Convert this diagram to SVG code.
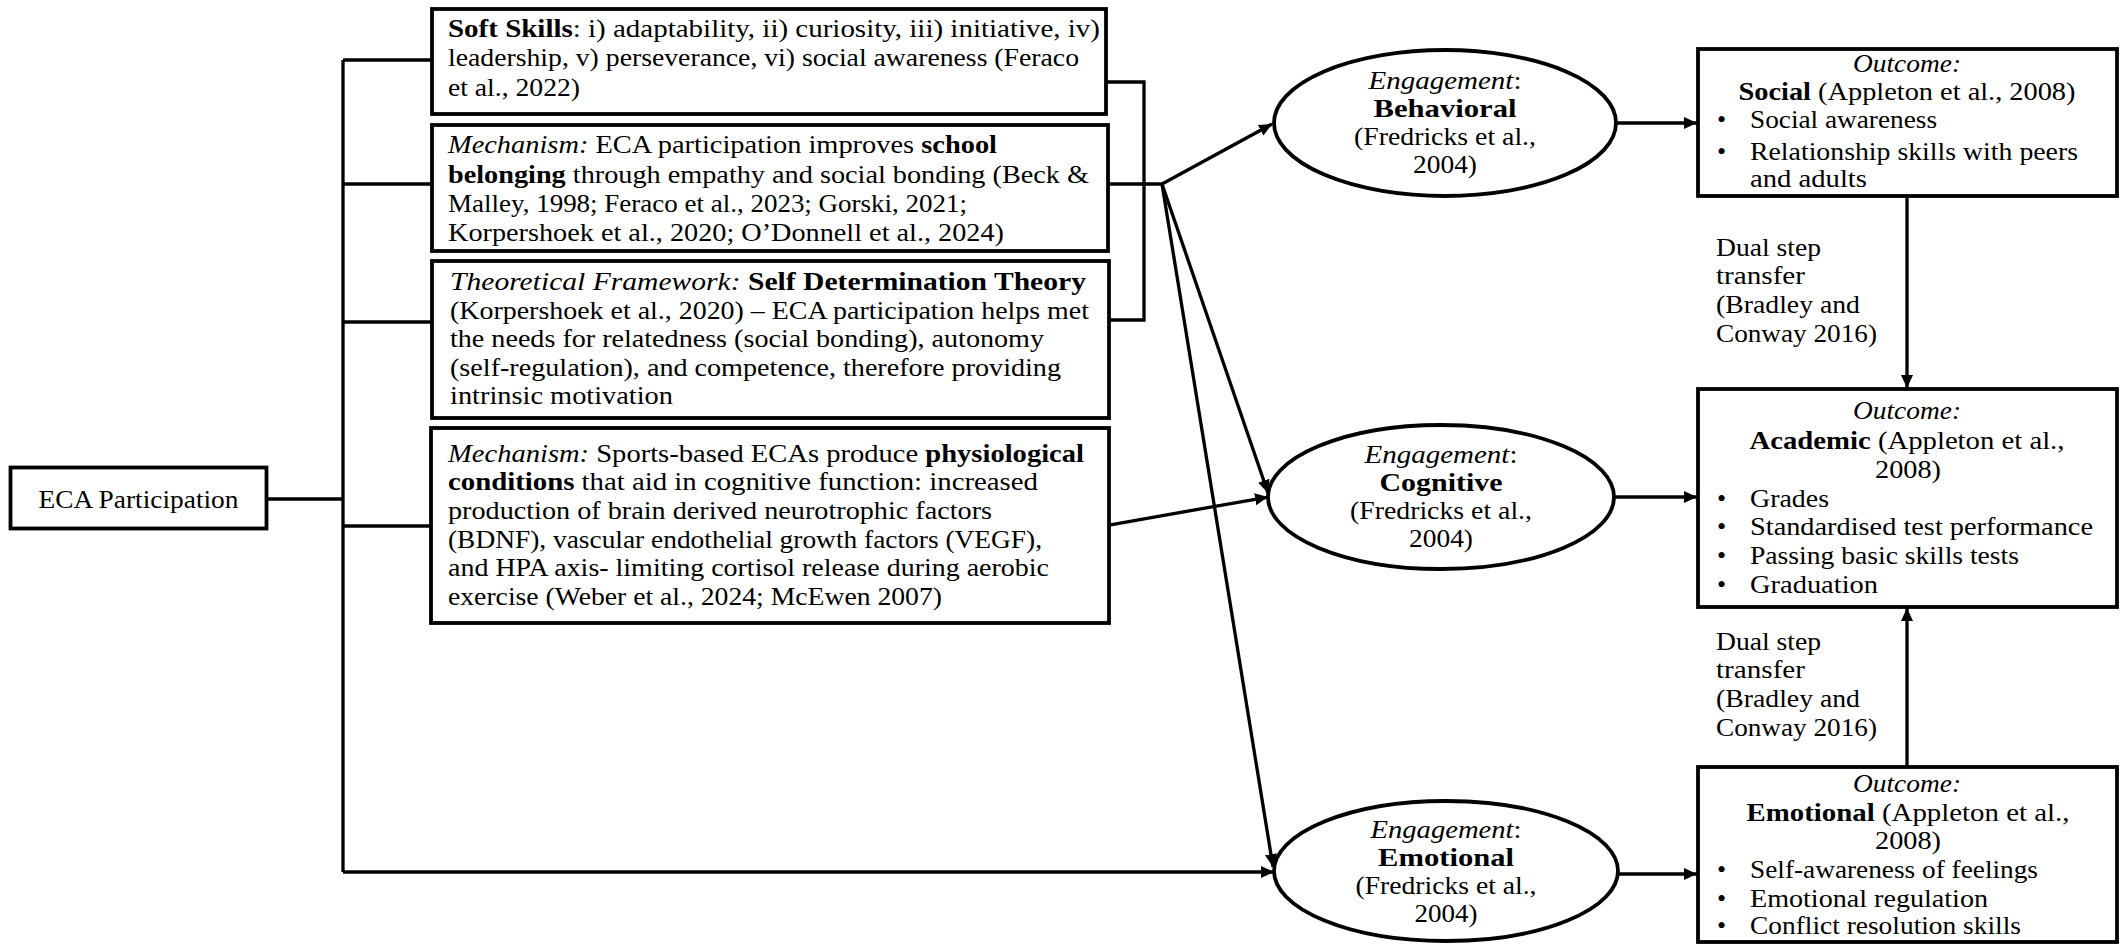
<svg xmlns="http://www.w3.org/2000/svg" width="2125" height="944" viewBox="0 0 2125 944">
<style>
.t{font-family:"Liberation Serif","Times New Roman",serif;font-size:26px;fill:#000}
.m{text-anchor:middle}
.b{font-weight:bold}
.i{font-style:italic}
.box{fill:#fff;stroke:#000;stroke-width:3.8}
.ln{fill:none;stroke:#000;stroke-width:3.3}
.arr{fill:none;stroke:#000;stroke-width:3.3;marker-end:url(#ah)}
</style>
<defs>
<marker id="ah" markerUnits="userSpaceOnUse" markerWidth="14" markerHeight="13" refX="13" refY="6" orient="auto">
<path d="M0,0 L13,6 L0,12 z" fill="#000"/>
</marker>
</defs>
<rect width="2125" height="944" fill="#fff"/>

<g id="connectors">
<line class="ln" x1="267" y1="499" x2="343" y2="499"/>
<line class="ln" x1="343" y1="60" x2="343" y2="872"/>
<line class="ln" x1="343" y1="60" x2="432" y2="60"/>
<line class="ln" x1="343" y1="184" x2="432" y2="184"/>
<line class="ln" x1="343" y1="322" x2="432" y2="322"/>
<line class="ln" x1="343" y1="526" x2="431" y2="526"/>
<line class="arr" x1="343" y1="872" x2="1274" y2="872"/>
<polyline class="ln" points="1106,82 1144,82 1144,320 1109,320"/>
<line class="ln" x1="1108" y1="184" x2="1162" y2="184"/>
<line class="arr" x1="1162" y1="184" x2="1272" y2="124"/>
<line class="arr" x1="1162" y1="184" x2="1268" y2="493"/>
<line class="arr" x1="1162" y1="184" x2="1273" y2="867"/>
<line class="arr" x1="1109" y1="525" x2="1268" y2="497"/>
<line class="arr" x1="1616" y1="123" x2="1697" y2="123"/>
<line class="arr" x1="1614" y1="497" x2="1697" y2="497"/>
<line class="arr" x1="1618" y1="874" x2="1697" y2="874"/>
<line class="arr" x1="1907" y1="196" x2="1907" y2="388"/>
<line class="arr" x1="1907" y1="767" x2="1907" y2="608"/>
</g>

<g id="eca">
<rect class="box" x="10.5" y="467.5" width="256" height="61"/>
<text class="t m" x="138.5" y="508" textLength="200" lengthAdjust="spacingAndGlyphs">ECA Participation</text>
</g>

<g id="soft-skills">
<rect class="box" x="432" y="9" width="674" height="105"/>
<text class="t" x="448" y="37" textLength="652" lengthAdjust="spacingAndGlyphs"><tspan class="b">Soft Skills</tspan>: i) adaptability, ii) curiosity, iii) initiative, iv)</text>
<text class="t" x="448" y="66" textLength="631" lengthAdjust="spacingAndGlyphs">leadership, v) perseverance, vi) social awareness (Feraco</text>
<text class="t" x="448" y="96" textLength="132" lengthAdjust="spacingAndGlyphs">et al., 2022)</text>
</g>

<g id="mechanism-belonging">
<rect class="box" x="432" y="125" width="676" height="126"/>
<text class="t" x="448" y="153" textLength="549" lengthAdjust="spacingAndGlyphs"><tspan class="i">Mechanism:</tspan> ECA participation improves <tspan class="b">school</tspan></text>
<text class="t" x="448" y="183" textLength="641" lengthAdjust="spacingAndGlyphs"><tspan class="b">belonging</tspan> through empathy and social bonding (Beck &amp;</text>
<text class="t" x="448" y="212" textLength="519" lengthAdjust="spacingAndGlyphs">Malley, 1998; Feraco et al., 2023; Gorski, 2021;</text>
<text class="t" x="448" y="241" textLength="556" lengthAdjust="spacingAndGlyphs">Korpershoek et al., 2020; O’Donnell et al., 2024)</text>
</g>

<g id="framework">
<rect class="box" x="432" y="261" width="677" height="157"/>
<text class="t" x="450" y="290" textLength="636" lengthAdjust="spacingAndGlyphs"><tspan class="i">Theoretical Framework:</tspan> <tspan class="b">Self Determination Theory</tspan></text>
<text class="t" x="450" y="319" textLength="639" lengthAdjust="spacingAndGlyphs">(Korpershoek et al., 2020) – ECA participation helps met</text>
<text class="t" x="450" y="347" textLength="594" lengthAdjust="spacingAndGlyphs">the needs for relatedness (social bonding), autonomy</text>
<text class="t" x="450" y="376" textLength="611" lengthAdjust="spacingAndGlyphs">(self-regulation), and competence, therefore providing</text>
<text class="t" x="450" y="404" textLength="223" lengthAdjust="spacingAndGlyphs">intrinsic motivation</text>
</g>

<g id="mechanism-physiological">
<rect class="box" x="431" y="428" width="678" height="195"/>
<text class="t" x="448" y="462" textLength="636" lengthAdjust="spacingAndGlyphs"><tspan class="i">Mechanism:</tspan> Sports-based ECAs produce <tspan class="b">physiological</tspan></text>
<text class="t" x="448" y="490" textLength="590" lengthAdjust="spacingAndGlyphs"><tspan class="b">conditions</tspan> that aid in cognitive function: increased</text>
<text class="t" x="448" y="519" textLength="544" lengthAdjust="spacingAndGlyphs">production of brain derived neurotrophic factors</text>
<text class="t" x="448" y="548" textLength="594" lengthAdjust="spacingAndGlyphs">(BDNF), vascular endothelial growth factors (VEGF),</text>
<text class="t" x="448" y="576" textLength="601" lengthAdjust="spacingAndGlyphs">and HPA axis- limiting cortisol release during aerobic</text>
<text class="t" x="448" y="605" textLength="494" lengthAdjust="spacingAndGlyphs">exercise (Weber et al., 2024; McEwen 2007)</text>
</g>

<g id="eng-behavioral">
<ellipse class="box" cx="1445" cy="123" rx="171" ry="73"/>
<text class="t m" x="1445" y="89" textLength="153" lengthAdjust="spacingAndGlyphs"><tspan class="i">Engagement</tspan>:</text>
<text class="t m b" x="1445" y="117" textLength="143" lengthAdjust="spacingAndGlyphs">Behavioral</text>
<text class="t m" x="1445" y="145" textLength="182" lengthAdjust="spacingAndGlyphs">(Fredricks et al.,</text>
<text class="t m" x="1445" y="173" textLength="64" lengthAdjust="spacingAndGlyphs">2004)</text>
</g>

<g id="eng-cognitive">
<ellipse class="box" cx="1441" cy="497" rx="173" ry="72"/>
<text class="t m" x="1441" y="463" textLength="153" lengthAdjust="spacingAndGlyphs"><tspan class="i">Engagement</tspan>:</text>
<text class="t m b" x="1441" y="491" textLength="123" lengthAdjust="spacingAndGlyphs">Cognitive</text>
<text class="t m" x="1441" y="519" textLength="182" lengthAdjust="spacingAndGlyphs">(Fredricks et al.,</text>
<text class="t m" x="1441" y="547" textLength="64" lengthAdjust="spacingAndGlyphs">2004)</text>
</g>

<g id="eng-emotional">
<ellipse class="box" cx="1446" cy="871" rx="172" ry="70"/>
<text class="t m" x="1446" y="838" textLength="151" lengthAdjust="spacingAndGlyphs"><tspan class="i">Engagement</tspan>:</text>
<text class="t m b" x="1446" y="866" textLength="136" lengthAdjust="spacingAndGlyphs">Emotional</text>
<text class="t m" x="1446" y="894" textLength="181" lengthAdjust="spacingAndGlyphs">(Fredricks et al.,</text>
<text class="t m" x="1446" y="922" textLength="63" lengthAdjust="spacingAndGlyphs">2004)</text>
</g>

<g id="out-social">
<rect class="box" x="1698" y="49" width="419" height="147"/>
<text class="t m i" x="1907" y="72" textLength="108" lengthAdjust="spacingAndGlyphs">Outcome:</text>
<text class="t m" x="1907" y="100" textLength="337" lengthAdjust="spacingAndGlyphs"><tspan class="b">Social</tspan> (Appleton et al., 2008)</text>
<text class="t" x="1717" y="128">•</text>
<text class="t" x="1750" y="128" textLength="187" lengthAdjust="spacingAndGlyphs">Social awareness</text>
<text class="t" x="1717" y="160">•</text>
<text class="t" x="1750" y="160" textLength="328" lengthAdjust="spacingAndGlyphs">Relationship skills with peers</text>
<text class="t" x="1750" y="187" textLength="117" lengthAdjust="spacingAndGlyphs">and adults</text>
</g>

<g id="out-academic">
<rect class="box" x="1698" y="389" width="419" height="218"/>
<text class="t m i" x="1907" y="419" textLength="108" lengthAdjust="spacingAndGlyphs">Outcome:</text>
<text class="t m" x="1907" y="449" textLength="315" lengthAdjust="spacingAndGlyphs"><tspan class="b">Academic</tspan> (Appleton et al.,</text>
<text class="t m" x="1908" y="478" textLength="66" lengthAdjust="spacingAndGlyphs">2008)</text>
<text class="t" x="1717" y="507">•</text>
<text class="t" x="1750" y="507" textLength="79" lengthAdjust="spacingAndGlyphs">Grades</text>
<text class="t" x="1717" y="535">•</text>
<text class="t" x="1750" y="535" textLength="343" lengthAdjust="spacingAndGlyphs">Standardised test performance</text>
<text class="t" x="1717" y="564">•</text>
<text class="t" x="1750" y="564" textLength="269" lengthAdjust="spacingAndGlyphs">Passing basic skills tests</text>
<text class="t" x="1717" y="593">•</text>
<text class="t" x="1750" y="593" textLength="128" lengthAdjust="spacingAndGlyphs">Graduation</text>
</g>

<g id="out-emotional">
<rect class="box" x="1698" y="767" width="419" height="175"/>
<text class="t m i" x="1907" y="792" textLength="108" lengthAdjust="spacingAndGlyphs">Outcome:</text>
<text class="t m" x="1908" y="821" textLength="323" lengthAdjust="spacingAndGlyphs"><tspan class="b">Emotional</tspan> (Appleton et al.,</text>
<text class="t m" x="1908" y="849" textLength="66" lengthAdjust="spacingAndGlyphs">2008)</text>
<text class="t" x="1717" y="878">•</text>
<text class="t" x="1750" y="878" textLength="288" lengthAdjust="spacingAndGlyphs">Self-awareness of feelings</text>
<text class="t" x="1717" y="907">•</text>
<text class="t" x="1750" y="907" textLength="238" lengthAdjust="spacingAndGlyphs">Emotional regulation</text>
<text class="t" x="1717" y="934">•</text>
<text class="t" x="1750" y="934" textLength="271" lengthAdjust="spacingAndGlyphs">Conflict resolution skills</text>
</g>

<g id="label-transfer-1">
<text class="t" x="1716" y="256" textLength="105" lengthAdjust="spacingAndGlyphs">Dual step</text>
<text class="t" x="1716" y="284" textLength="89" lengthAdjust="spacingAndGlyphs">transfer</text>
<text class="t" x="1716" y="313" textLength="144" lengthAdjust="spacingAndGlyphs">(Bradley and</text>
<text class="t" x="1716" y="342" textLength="161" lengthAdjust="spacingAndGlyphs">Conway 2016)</text>
</g>

<g id="label-transfer-2">
<text class="t" x="1716" y="650" textLength="105" lengthAdjust="spacingAndGlyphs">Dual step</text>
<text class="t" x="1716" y="678" textLength="89" lengthAdjust="spacingAndGlyphs">transfer</text>
<text class="t" x="1716" y="707" textLength="144" lengthAdjust="spacingAndGlyphs">(Bradley and</text>
<text class="t" x="1716" y="736" textLength="161" lengthAdjust="spacingAndGlyphs">Conway 2016)</text>
</g>
</svg>
